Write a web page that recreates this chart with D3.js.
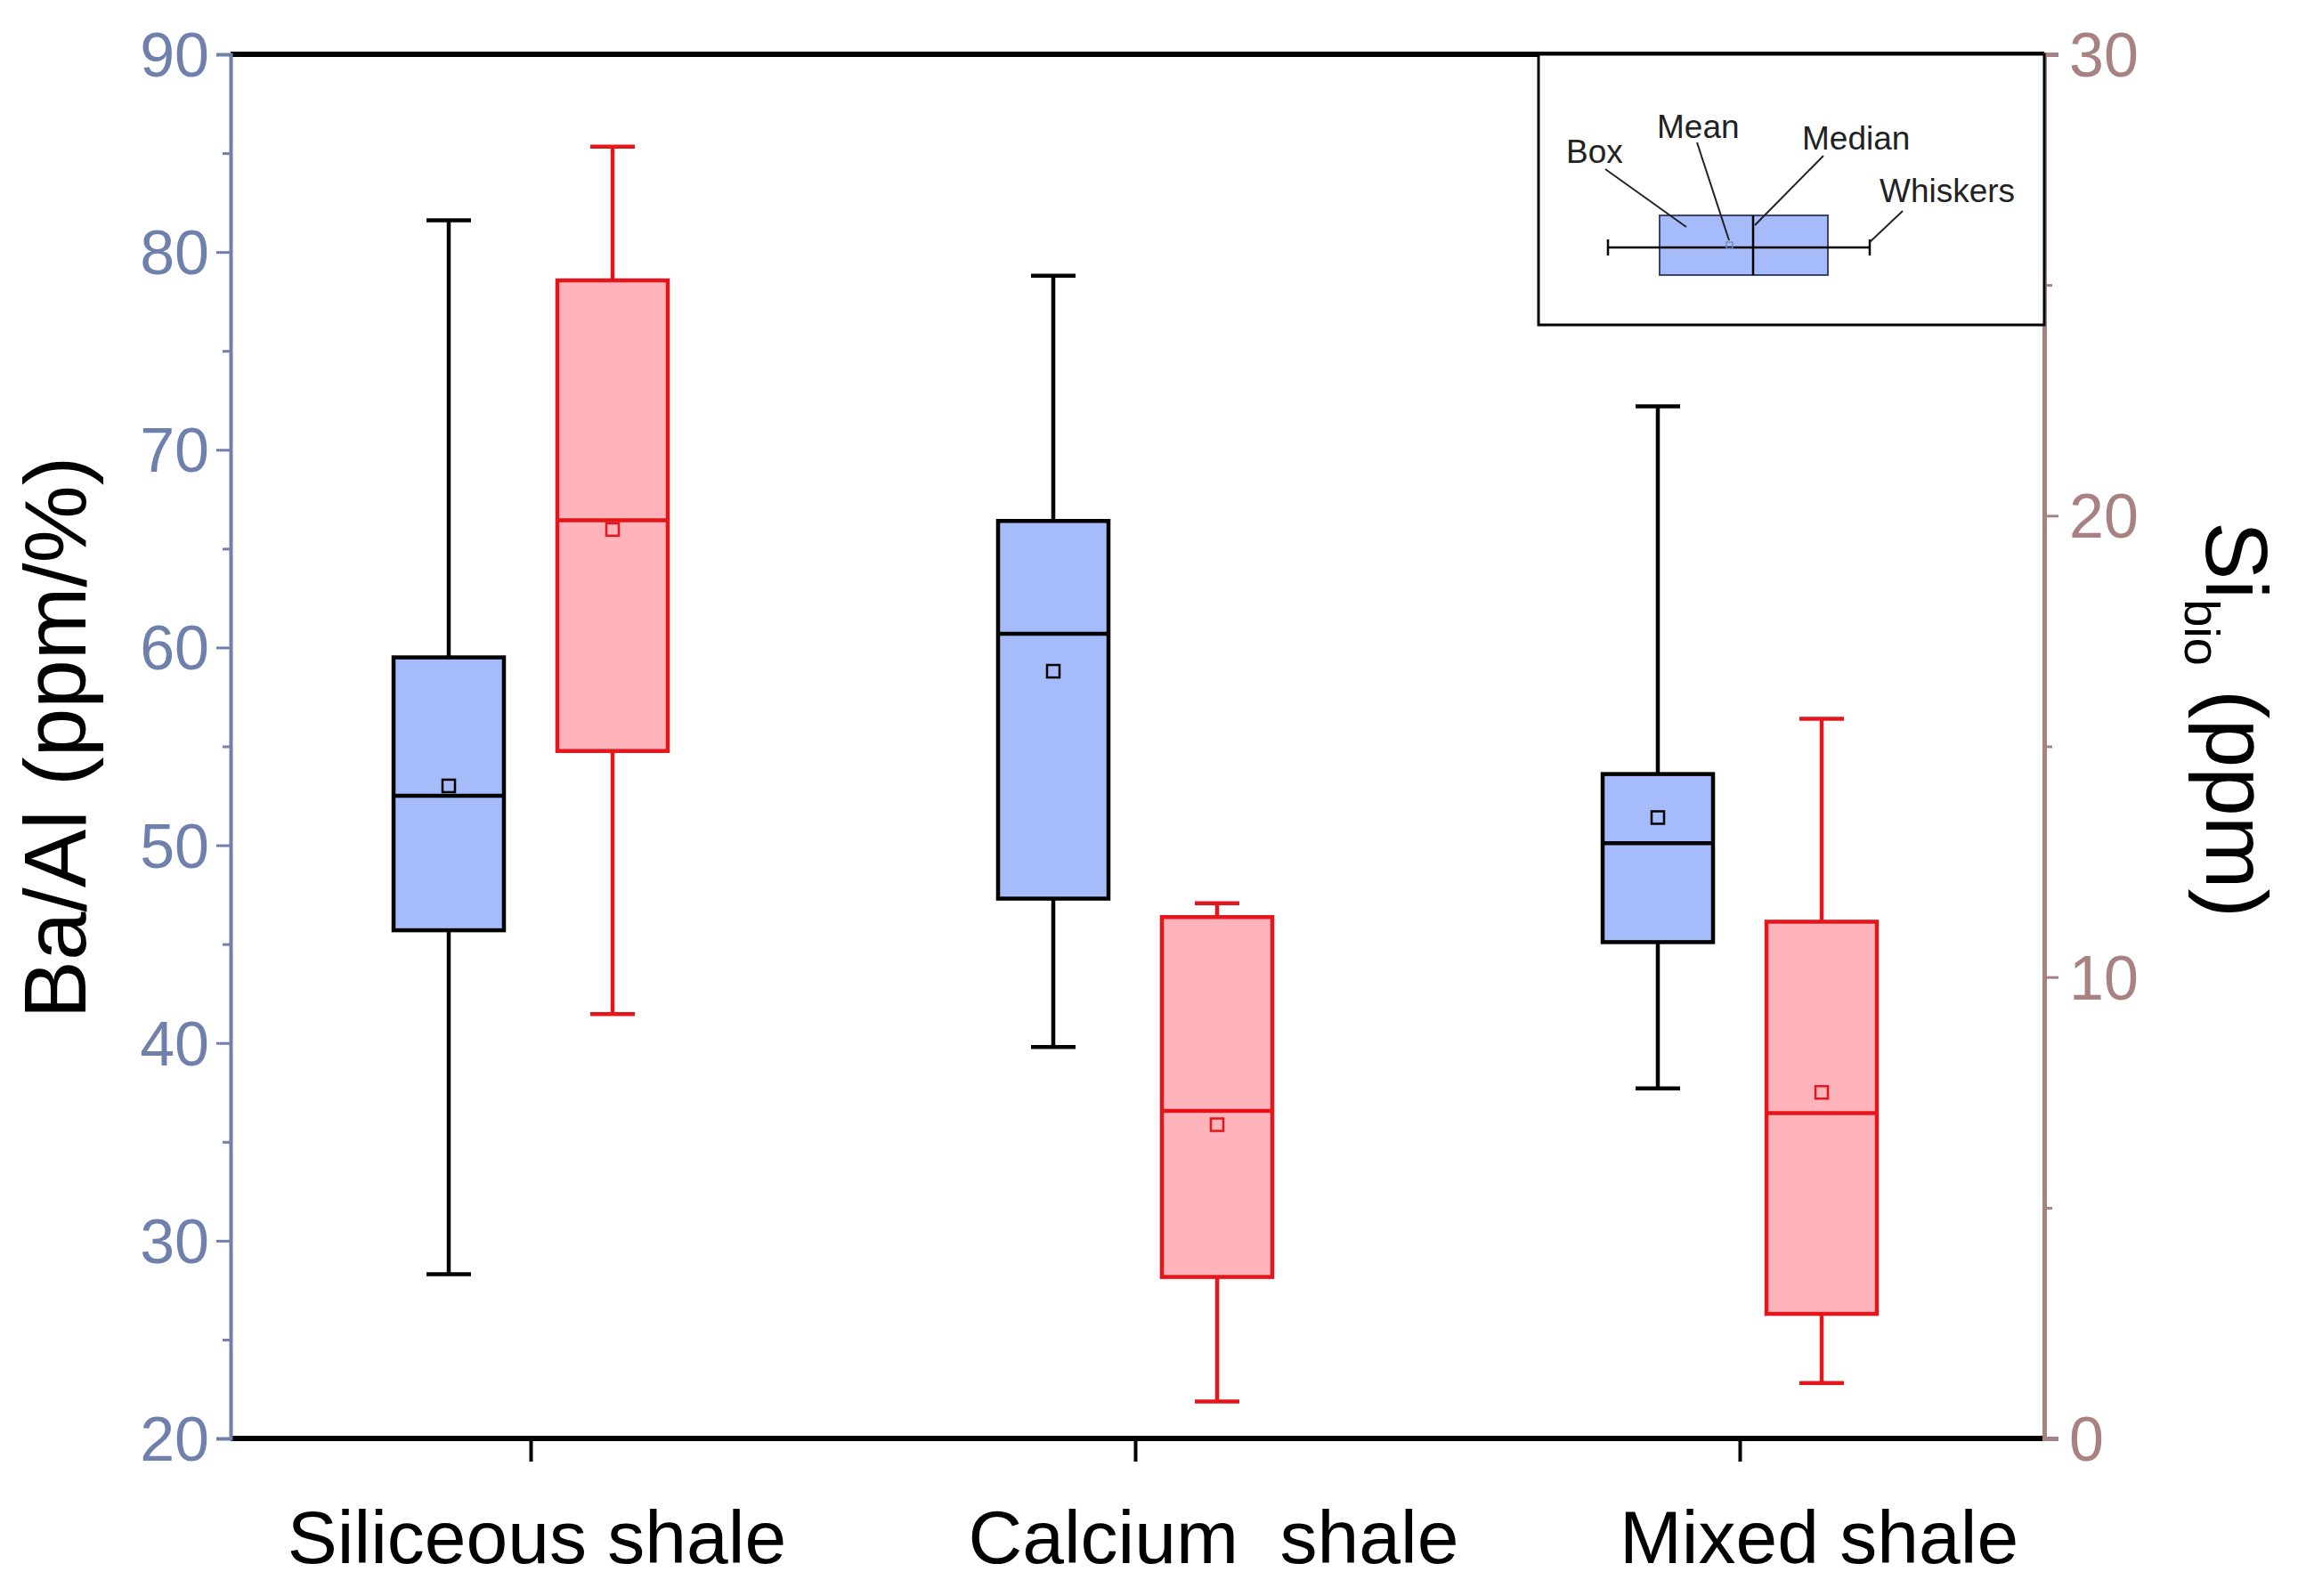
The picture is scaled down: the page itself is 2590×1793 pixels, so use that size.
<!DOCTYPE html>
<html><head><meta charset="utf-8">
<script src="https://cdn.jsdelivr.net/npm/d3@7"></script>
<style>body{margin:0;background:#fff}text{font-family:Arial,"Liberation Sans",sans-serif}</style>
</head><body>
<svg id="chart" width="2590" height="1793"></svg>
<script>
var categories = ['Siliceous shale', 'Calcium  shale', 'Mixed shale'];
// Ba/Al, left axis: [low whisker, q1, median, q3, high whisker, mean]
var baAl = [[28.3, 45.7, 52.5, 59.5, 81.6, 53.0], [39.8, 47.3, 60.7, 66.4, 78.8, 58.8], [37.7, 45.1, 50.1, 53.6, 72.2, 51.4]];
// Si_bio, right axis
var siBio = [[9.2, 14.9, 19.9, 25.1, 28.0, 19.7], [0.8, 3.5, 7.1, 11.3, 11.6, 6.8], [1.2, 2.7, 7.05, 11.2, 15.6, 7.5]];
var leftTicks = [20, 30, 40, 50, 60, 70, 80, 90];
var rightTicks = [0, 10, 20, 30];

var svg = d3.select('#chart');
var L = 259, R = 2296, T = 61, B = 1616;
var leftCol = '#6f80ad', rightCol = '#a88282';

var x = d3.scalePoint().domain(categories).range([596, 1954]);
var yl = d3.scaleLinear().domain([20, 90]).range([B, T]);
var yr = d3.scaleLinear().domain([0, 30]).range([B, T]);

// frame
svg.append('line').attr('x1', L).attr('x2', R).attr('y1', T).attr('y2', T).attr('stroke', '#000').attr('stroke-width', 6);
svg.append('line').attr('x1', L).attr('x2', R).attr('y1', B).attr('y2', B).attr('stroke', '#000').attr('stroke-width', 6);

// left axis
var la = svg.append('g').attr('transform', 'translate(' + L + ',0)')
    .call(d3.axisLeft(yl).tickValues(d3.range(20, 91, 5)).tickSize(16).tickFormat(function(d) { return leftTicks.indexOf(d) >= 0 ? d : ''; }));
la.select('.domain').attr('stroke', leftCol).attr('stroke-width', 4);
la.selectAll('.tick line').attr('stroke', leftCol).attr('stroke-width', 3)
    .attr('x2', function(d) { return d % 10 === 0 ? -16 : -9; });
la.selectAll('.tick text').attr('fill', leftCol).attr('font-size', 70).attr('x', -24).attr('dy', '0.35em');

// right axis
var ra = svg.append('g').attr('transform', 'translate(' + R + ',0)')
    .call(d3.axisRight(yr).tickValues(d3.range(0, 31, 5)).tickSize(16).tickFormat(function(d) { return rightTicks.indexOf(d) >= 0 ? d : ''; }));
ra.select('.domain').attr('stroke', rightCol).attr('stroke-width', 5);
ra.selectAll('.tick line').attr('stroke', rightCol).attr('stroke-width', 3)
    .attr('x2', function(d) { return d % 10 === 0 ? 16 : 9; });
ra.selectAll('.tick text').attr('fill', rightCol).attr('font-size', 70).attr('x', 28).attr('dy', '0.35em');

// x axis ticks
var xa = svg.append('g').attr('transform', 'translate(0,' + B + ')')
    .call(d3.axisBottom(x).tickSize(26).tickFormat(''));
xa.select('.domain').remove();
xa.selectAll('.tick line').attr('stroke', '#000').attr('stroke-width', 4);
var labelX = [603, 1363, 2043];
svg.selectAll('.xlab').data(categories).enter().append('text')
    .attr('x', function(d, i) { return labelX[i]; }).attr('y', 1756)
    .attr('text-anchor', 'middle').attr('font-size', 84).attr('fill', '#000')
    .attr('style', 'white-space:pre').text(function(d) { return d; });

// axis titles
svg.append('text').attr('transform', 'translate(96,' + ((T + B) / 2 - 10) + ') rotate(-90)')
    .attr('text-anchor', 'middle').attr('font-size', 98).text('Ba/Al (ppm/%)');
var rt = svg.append('text').attr('transform', 'translate(2478,' + ((T + B) / 2 - 30) + ') rotate(90)')
    .attr('text-anchor', 'middle').attr('font-size', 98);
rt.append('tspan').text('Si');
rt.append('tspan').attr('font-size', 56).attr('dy', 24).text('bio');
rt.append('tspan').attr('dy', -24).text(' (ppm)');

function drawBoxes(data, y, off, fill, stroke) {
  var bw = 124, cap = 50;
  var g = svg.selectAll(null).data(data).enter().append('g')
      .attr('transform', function(d, i) { return 'translate(' + (x(categories[i]) + off) + ',0)'; })
      .attr('stroke', stroke).attr('stroke-width', 4.5).attr('fill', 'none');
  g.append('line').attr('y1', function(d) { return y(d[0]); }).attr('y2', function(d) { return y(d[1]); });
  g.append('line').attr('y1', function(d) { return y(d[3]); }).attr('y2', function(d) { return y(d[4]); });
  g.append('line').attr('x1', -cap / 2).attr('x2', cap / 2).attr('y1', function(d) { return y(d[0]); }).attr('y2', function(d) { return y(d[0]); });
  g.append('line').attr('x1', -cap / 2).attr('x2', cap / 2).attr('y1', function(d) { return y(d[4]); }).attr('y2', function(d) { return y(d[4]); });
  g.append('rect').attr('x', -bw / 2).attr('width', bw).attr('y', function(d) { return y(d[3]); })
      .attr('height', function(d) { return y(d[1]) - y(d[3]); }).attr('fill', fill);
  g.append('line').attr('x1', -bw / 2).attr('x2', bw / 2).attr('y1', function(d) { return y(d[2]); }).attr('y2', function(d) { return y(d[2]); });
  g.append('rect').attr('x', -7).attr('width', 14).attr('height', 14).attr('y', function(d) { return y(d[5]) - 7; })
      .attr('stroke-width', 2.5);
}
drawBoxes(baAl, yl, -92, '#a5bbfa', '#000');
drawBoxes(siBio, yr, 92, '#ffb3ba', '#e4161c');

// legend inset
var lg = svg.append('g');
lg.append('rect').attr('x', 1728).attr('y', T).attr('width', R - 1728).attr('height', 365 - T)
    .attr('fill', '#fff').attr('stroke', '#000').attr('stroke-width', 3);
lg.append('rect').attr('x', 1864).attr('y', 242).attr('width', 189).attr('height', 67)
    .attr('fill', '#a5bbfa').attr('stroke', '#3a4670').attr('stroke-width', 2);
lg.append('line').attr('x1', 1806).attr('x2', 2100).attr('y1', 278).attr('y2', 278).attr('stroke', '#000').attr('stroke-width', 2.5);
lg.append('line').attr('x1', 1969).attr('x2', 1969).attr('y1', 242).attr('y2', 309).attr('stroke', '#000').attr('stroke-width', 2.5);
lg.append('line').attr('x1', 1806).attr('x2', 1806).attr('y1', 269).attr('y2', 287).attr('stroke', '#000').attr('stroke-width', 2.5);
lg.append('line').attr('x1', 2100).attr('x2', 2100).attr('y1', 269).attr('y2', 287).attr('stroke', '#000').attr('stroke-width', 2.5);
lg.append('rect').attr('x', 1939).attr('y', 272).attr('width', 7).attr('height', 7).attr('fill', 'none').attr('stroke', '#7a8cc0').attr('stroke-width', 1.5);
var leaders = [[1803, 190, 1894, 255], [1906, 160, 1942, 270], [2048, 175, 1971, 253], [2137, 237, 2100, 272]];
lg.selectAll(null).data(leaders).enter().append('line')
    .attr('x1', function(d) { return d[0]; }).attr('y1', function(d) { return d[1]; })
    .attr('x2', function(d) { return d[2]; }).attr('y2', function(d) { return d[3]; })
    .attr('stroke', '#222').attr('stroke-width', 2);
var legTexts = [['Box', 1759, 183], ['Mean', 1861, 155], ['Median', 2024, 168], ['Whiskers', 2111, 227]];
lg.selectAll(null).data(legTexts).enter().append('text')
    .attr('x', function(d) { return d[1]; }).attr('y', function(d) { return d[2]; })
    .attr('font-size', 37).attr('fill', '#222').text(function(d) { return d[0]; });
</script>
</body></html>
